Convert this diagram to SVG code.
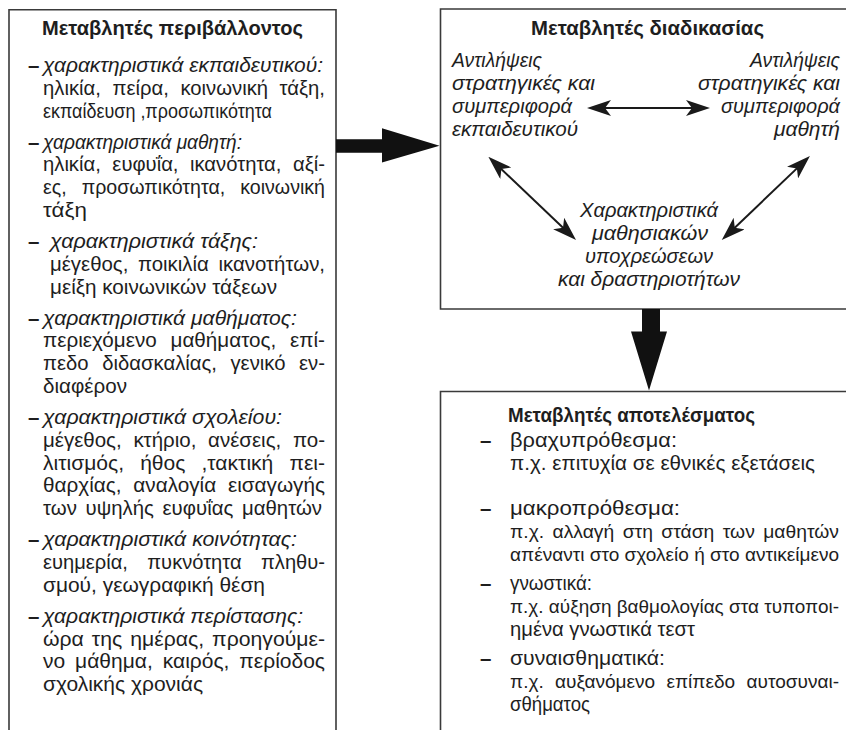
<svg xmlns="http://www.w3.org/2000/svg" width="846" height="730" viewBox="0 0 846 730">
<defs>
<style>
.box{fill:none;stroke:#3a3a3a;stroke-width:1.6}
text{font-family:"Liberation Sans",Arial,sans-serif;font-size:20.5px;fill:#1e1e1e}
.t{font-weight:bold;text-anchor:middle;font-size:19.5px}
.i{font-style:italic}
.m{text-anchor:middle}
.e{text-anchor:end}
.d{font-weight:bold}
.r{font-size:19px}
.conn{stroke:#1a1a1a;stroke-width:2;fill:none}
.thick{fill:#111;stroke:none}
</style>
<marker id="ah" viewBox="0 0 24 16" markerWidth="24" markerHeight="16" refX="14" refY="8" orient="auto-start-reverse" markerUnits="userSpaceOnUse">
<path d="M24,8 L0,0 L6,8 L0,16 Z" fill="#1a1a1a"/>
</marker>
</defs>

<g id="env">
<path class="box" d="M9,732 V9.8 H336 V732"/>
<text class="t" x="172.5" y="35" textLength="261" lengthAdjust="spacingAndGlyphs">Μεταβλητές περιβάλλοντος</text>
<text class="d" x="28" y="72">–</text><text class="i" x="43" y="72" textLength="280" lengthAdjust="spacingAndGlyphs">χαρακτηριστικά εκπαιδευτικού:</text>
<text x="43" y="94.8" word-spacing="6" textLength="282" lengthAdjust="spacingAndGlyphs">ηλικία, πείρα, κοινωνική τάξη,</text>
<text x="43" y="117.6" textLength="229" lengthAdjust="spacingAndGlyphs">εκπαίδευση ,προσωπικότητα</text>
<text class="d" x="28" y="148.6">–</text><text class="i" x="43" y="148.6" textLength="199" lengthAdjust="spacingAndGlyphs">χαρακτηριστικά μαθητή:</text>
<text x="43" y="171.4" word-spacing="6" textLength="282" lengthAdjust="spacingAndGlyphs">ηλικία, ευφυΐα, ικανότητα, αξί-</text>
<text x="43" y="194.2" word-spacing="10" textLength="282" lengthAdjust="spacingAndGlyphs">ες, προσωπικότητα, κοινωνική</text>
<text x="43" y="217" textLength="44" lengthAdjust="spacingAndGlyphs">τάξη</text>
<text class="d" x="28" y="248">–</text><text class="i" x="50" y="248" textLength="208" lengthAdjust="spacingAndGlyphs">χαρακτηριστικά τάξης:</text>
<text x="50" y="270.8" word-spacing="4" textLength="275" lengthAdjust="spacingAndGlyphs">μέγεθος, ποικιλία ικανοτήτων,</text>
<text x="50" y="293.6" textLength="227" lengthAdjust="spacingAndGlyphs">μείξη κοινωνικών τάξεων</text>
<text class="d" x="28" y="324.6">–</text><text class="i" x="43" y="324.6" textLength="254" lengthAdjust="spacingAndGlyphs">χαρακτηριστικά μαθήματος:</text>
<text x="43" y="347.4" word-spacing="8" textLength="282" lengthAdjust="spacingAndGlyphs">περιεχόμενο μαθήματος, επί-</text>
<text x="43" y="370.2" word-spacing="8" textLength="282" lengthAdjust="spacingAndGlyphs">πεδο διδασκαλίας, γενικό εν-</text>
<text x="43" y="393" textLength="84" lengthAdjust="spacingAndGlyphs">διαφέρον</text>
<text class="d" x="28" y="424">–</text><text class="i" x="43" y="424" textLength="239" lengthAdjust="spacingAndGlyphs">χαρακτηριστικά σχολείου:</text>
<text x="43" y="446.8" word-spacing="6" textLength="282" lengthAdjust="spacingAndGlyphs">μέγεθος, κτήριο, ανέσεις, πο-</text>
<text x="43" y="469.6" word-spacing="10" textLength="282" lengthAdjust="spacingAndGlyphs">λιτισμός, ήθος ,τακτική πει-</text>
<text x="43" y="492.4" word-spacing="6" textLength="282" lengthAdjust="spacingAndGlyphs">θαρχίας, αναλογία εισαγωγής</text>
<text x="43" y="515.2" word-spacing="3" textLength="279" lengthAdjust="spacingAndGlyphs">των υψηλής ευφυΐας μαθητών</text>
<text class="d" x="28" y="546.2">–</text><text class="i" x="43" y="546.2" textLength="254" lengthAdjust="spacingAndGlyphs">χαρακτηριστικά κοινότητας:</text>
<text x="43" y="569" word-spacing="14" textLength="282" lengthAdjust="spacingAndGlyphs">ευημερία, πυκνότητα πληθυ-</text>
<text x="43" y="591.8" textLength="222" lengthAdjust="spacingAndGlyphs">σμού, γεωγραφική θέση</text>
<text class="d" x="28" y="622.8">–</text><text class="i" x="43" y="622.8" textLength="260" lengthAdjust="spacingAndGlyphs">χαρακτηριστικά περίστασης:</text>
<text x="43" y="645.6" word-spacing="2" textLength="282" lengthAdjust="spacingAndGlyphs">ώρα της ημέρας, προηγούμε-</text>
<text x="43" y="668.4" word-spacing="4" textLength="282" lengthAdjust="spacingAndGlyphs">νο μάθημα, καιρός, περίοδος</text>
<text x="43" y="691.2" textLength="160" lengthAdjust="spacingAndGlyphs">σχολικής χρονιάς</text>
</g>

<g id="process">
<path class="box" d="M848,9 H440.5 V309 H848"/>
<text class="t" x="647.5" y="35" textLength="233" lengthAdjust="spacingAndGlyphs">Μεταβλητές διαδικασίας</text>
<g id="teacher">
<text class="i" x="452" y="67" textLength="90" lengthAdjust="spacingAndGlyphs">Αντιλήψεις</text>
<text class="i" x="452" y="90" textLength="143" lengthAdjust="spacingAndGlyphs">στρατηγικές και</text>
<text class="i" x="452" y="113" textLength="120" lengthAdjust="spacingAndGlyphs">συμπεριφορά</text>
<text class="i" x="452" y="136" textLength="126" lengthAdjust="spacingAndGlyphs">εκπαιδευτικού</text>
</g>
<g id="student">
<text class="i e" x="840" y="67" textLength="90" lengthAdjust="spacingAndGlyphs">Αντιλήψεις</text>
<text class="i e" x="840" y="90" textLength="142" lengthAdjust="spacingAndGlyphs">στρατηγικές και</text>
<text class="i e" x="840" y="113" textLength="119" lengthAdjust="spacingAndGlyphs">συμπεριφορά</text>
<text class="i e" x="840" y="136" textLength="66" lengthAdjust="spacingAndGlyphs">μαθητή</text>
</g>
<g id="tasks">
<text class="i m" x="649" y="217" textLength="138" lengthAdjust="spacingAndGlyphs">Χαρακτηριστικά</text>
<text class="i m" x="650" y="240" textLength="116" lengthAdjust="spacingAndGlyphs">μαθησιακών</text>
<text class="i m" x="649" y="263" textLength="128" lengthAdjust="spacingAndGlyphs">υποχρεώσεων</text>
<text class="i m" x="649" y="286" textLength="182" lengthAdjust="spacingAndGlyphs">και δραστηριοτήτων</text>
</g>
</g>

<g id="outcome">
<path class="box" d="M848,391.5 H440.5 V732"/>
<text class="t" x="631.5" y="422" textLength="247" lengthAdjust="spacingAndGlyphs">Μεταβλητές αποτελέσματος</text>
<text class="d" x="480" y="447">–</text><text x="510" y="447" textLength="167" lengthAdjust="spacingAndGlyphs">βραχυπρόθεσμα:</text>
<text x="510" y="470" textLength="305" lengthAdjust="spacingAndGlyphs">π.χ. επιτυχία σε εθνικές εξετάσεις</text>
<text class="d" x="480" y="515">–</text><text x="510" y="515" textLength="170" lengthAdjust="spacingAndGlyphs">μακροπρόθεσμα:</text>
<text class="r" x="510" y="538" word-spacing="3" textLength="329" lengthAdjust="spacingAndGlyphs">π.χ. αλλαγή στη στάση των μαθητών</text>
<text class="r" x="510" y="561" textLength="329" lengthAdjust="spacingAndGlyphs">απέναντι στο σχολείο ή στο αντικείμενο</text>
<text class="d" x="480" y="590">–</text><text x="510" y="590" textLength="82" lengthAdjust="spacingAndGlyphs">γνωστικά:</text>
<text class="r" x="510" y="613" textLength="329" lengthAdjust="spacingAndGlyphs">π.χ. αύξηση βαθμολογίας στα τυποποι-</text>
<text x="510" y="636" textLength="185" lengthAdjust="spacingAndGlyphs">ημένα γνωστικά τεστ</text>
<text class="d" x="480" y="665">–</text><text x="510" y="665" textLength="155" lengthAdjust="spacingAndGlyphs">συναισθηματικά:</text>
<text class="r" x="510" y="688" word-spacing="6" textLength="329" lengthAdjust="spacingAndGlyphs">π.χ. αυξανόμενο επίπεδο αυτοσυναι-</text>
<text x="510" y="711" textLength="80" lengthAdjust="spacingAndGlyphs">σθήματος</text>
</g>

<g id="connectors">
<polygon class="thick" points="336,139.3 382,139.3 382,128.3 439.5,145.8 382,162.5 382,152.7 336,152.7"/>
<polygon class="thick" points="642,309 660,309 660,331.5 667,331.5 649,390.5 631,331.5 642,331.5"/>
<line class="conn" x1="597" y1="108" x2="700" y2="108" marker-start="url(#ah)" marker-end="url(#ah)"/>
<line class="conn" x1="495.6" y1="163.6" x2="568.8" y2="233.2" marker-start="url(#ah)" marker-end="url(#ah)"/>
<line class="conn" x1="802.7" y1="162.9" x2="729" y2="233.2" marker-start="url(#ah)" marker-end="url(#ah)"/>
</g>
</svg>
